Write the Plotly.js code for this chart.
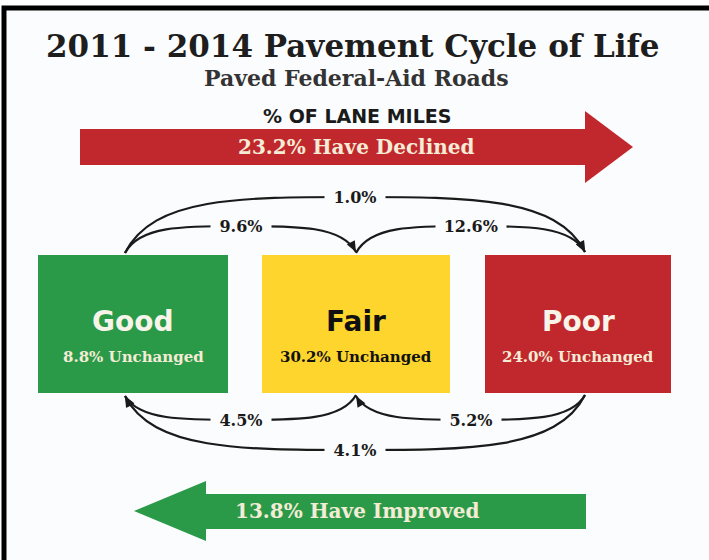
<!DOCTYPE html>
<html><head><meta charset="utf-8">
<script src="https://cdn.plot.ly/plotly-3.0.1.min.js"></script>
<style>html,body{margin:0;padding:0;background:#fff}#chart{width:709px;height:560px}</style>
</head><body><div id="chart"></div>
<script>
// ---- data ----
const categories = ['Good', 'Fair', 'Poor'];
const unchangedPct = [8.8, 30.2, 24.0];
const transFrom = ['Good', 'Good', 'Fair', 'Fair', 'Poor', 'Poor'];
const transTo   = ['Fair', 'Poor', 'Poor', 'Good', 'Fair', 'Good'];
const transPct  = [9.6, 1.0, 12.6, 4.5, 5.2, 4.1];
const declinedPct = 23.2;
const improvedPct = 13.8;
const titleText = '2011 - 2014 Pavement Cycle of Life';
const subtitleText = 'Paved Federal-Aid Roads';
const unitText = '% OF LANE MILES';

// ---- styles / layout ----
const boxFill = ['#2b9a48', '#fdd52c', '#c1282d'];
const boxText = ['#f8f4ea', '#111111', '#f8f4ea'];
const boxSub  = ['#f4ecd6', '#111111', '#f4ecd6'];
const boxX = [[38, 228], [262, 450], [485, 671]];
const boxY = [255, 393];
const anchorX = [125, 356, 585];
const BG = '#fbfcfd';
const serif = 'DejaVu Serif, serif';
const sans = 'DejaVu Sans, sans-serif';

const shapes = [];
const ann = [];

// frame
shapes.push({type:'rect', xref:'x', yref:'y', x0:4, x1:720, y0:8, y1:600, line:{color:'#000', width:5}, fillcolor:BG, layer:'below'});

// boxes
categories.forEach((c, i) => {
  shapes.push({type:'rect', xref:'x', yref:'y', x0:boxX[i][0], x1:boxX[i][1], y0:boxY[0], y1:boxY[1],
    fillcolor:boxFill[i], line:{width:0}});
  const cx = (boxX[i][0] + boxX[i][1]) / 2;
  ann.push({x:cx, y:321, xref:'x', yref:'y', text:'<b>' + c + '</b>', showarrow:false,
    font:{family:sans, size:28, color:boxText[i]}});
  ann.push({x:cx, y:357, xref:'x', yref:'y', text:'<b>' + unchangedPct[i].toFixed(1) + '% Unchanged</b>', showarrow:false,
    font:{family:serif, size:15, color:boxSub[i]}});
});

// transition curves
function idx(n){ return categories.indexOf(n); }
function arrowHead(ex, ey, cx, cy){
  const dx = ex - cx, dy = ey - cy, L = Math.hypot(dx, dy);
  const ux = dx / L, uy = dy / L, px = -uy, py = ux;
  const len = 11, w = 4.5;
  const bx = ex - ux * len, by = ey - uy * len;
  return {type:'path', xref:'x', yref:'y', fillcolor:'#1a1a1a', line:{width:0},
    path:`M${ex},${ey} L${bx + px*w},${by + py*w} L${bx - px*w},${by - py*w} Z`};
}
transFrom.forEach((f, k) => {
  const a = idx(f), b = idx(transTo[k]);
  const xa = anchorX[a], xb = anchorX[b];
  const span = Math.abs(b - a);
  const down = b < a; // improving transitions go under the boxes
  let ya, yb, yPeak;
  if (!down) { ya = boxY[0] - 2; yb = boxY[0] - 3; yPeak = span === 2 ? 197 : 226; }
  else { ya = boxY[1] + 2; yb = boxY[1] + 3; yPeak = span === 2 ? 450 : 420; }
  const xm = (xa + xb) / 2;
  const s = xb > xa ? 1 : -1;
  const w = Math.abs(xb - xa);
  const c1x = xa + s * w * 0.06, c2x = xm - s * w * 0.25;
  const c3x = xm + s * w * 0.25, c4x = xb - s * w * 0.06;
  shapes.push({type:'path', xref:'x', yref:'y', line:{color:'#1a1a1a', width:2.2},
    path:`M${xa},${ya} C${c1x},${yPeak} ${c2x},${yPeak} ${xm},${yPeak} C${c3x},${yPeak} ${c4x},${yPeak} ${xb},${yb}`});
  shapes.push(arrowHead(xb, yb, c4x, yPeak));
  const label = transPct[k].toFixed(1) + '%';
  ann.push({x:xm, y:yPeak, xref:'x', yref:'y', text:'<b>' + label + '</b>', showarrow:false,
    bgcolor:BG, width:label.length * 9.5 + 22, height:17, borderpad:0,
    font:{family:serif, size:16, color:'#1a1a1a'}});
});

// big arrows
shapes.push({type:'path', xref:'x', yref:'y', fillcolor:'#c1282d', line:{width:0},
  path:'M80,129 L585,129 L585,111 L633,147 L585,183 L585,165 L80,165 Z'});
shapes.push({type:'path', xref:'x', yref:'y', fillcolor:'#2b9a48', line:{width:0},
  path:'M586,494 L206,494 L206,481 L134,511 L206,541 L206,529 L586,529 Z'});

ann.push({x:357, y:116, xref:'x', yref:'y', text:'<b>' + unitText + '</b>', showarrow:false,
  font:{family:sans, size:19, color:'#1a1a1a'}});
ann.push({x:356, y:147, xref:'x', yref:'y', text:'<b>' + declinedPct.toFixed(1) + '% Have Declined</b>', showarrow:false,
  font:{family:serif, size:20, color:'#f4ecd6'}});
ann.push({x:357, y:511, xref:'x', yref:'y', text:'<b>' + improvedPct.toFixed(1) + '% Have Improved</b>', showarrow:false,
  font:{family:serif, size:20, color:'#f4ecd6'}});
ann.push({x:353, y:46, xref:'x', yref:'y', text:'<b>' + titleText + '</b>', showarrow:false,
  font:{family:serif, size:31, color:'#1e1e1e'}});
ann.push({x:356, y:78, xref:'x', yref:'y', text:'<b>' + subtitleText + '</b>', showarrow:false,
  font:{family:serif, size:22, color:'#333333'}});

const layout = {
  width:709, height:560, margin:{l:0, r:0, t:0, b:0},
  paper_bgcolor:'#ffffff', plot_bgcolor:'#ffffff', showlegend:false,
  xaxis:{range:[0, 709], visible:false, fixedrange:true},
  yaxis:{range:[560, 0], visible:false, fixedrange:true},
  shapes:shapes, annotations:ann
};
Plotly.newPlot('chart', [{x:[], y:[], type:'scatter', mode:'markers', hoverinfo:'skip'}], layout, {staticPlot:true, displayModeBar:false});
</script></body></html>
